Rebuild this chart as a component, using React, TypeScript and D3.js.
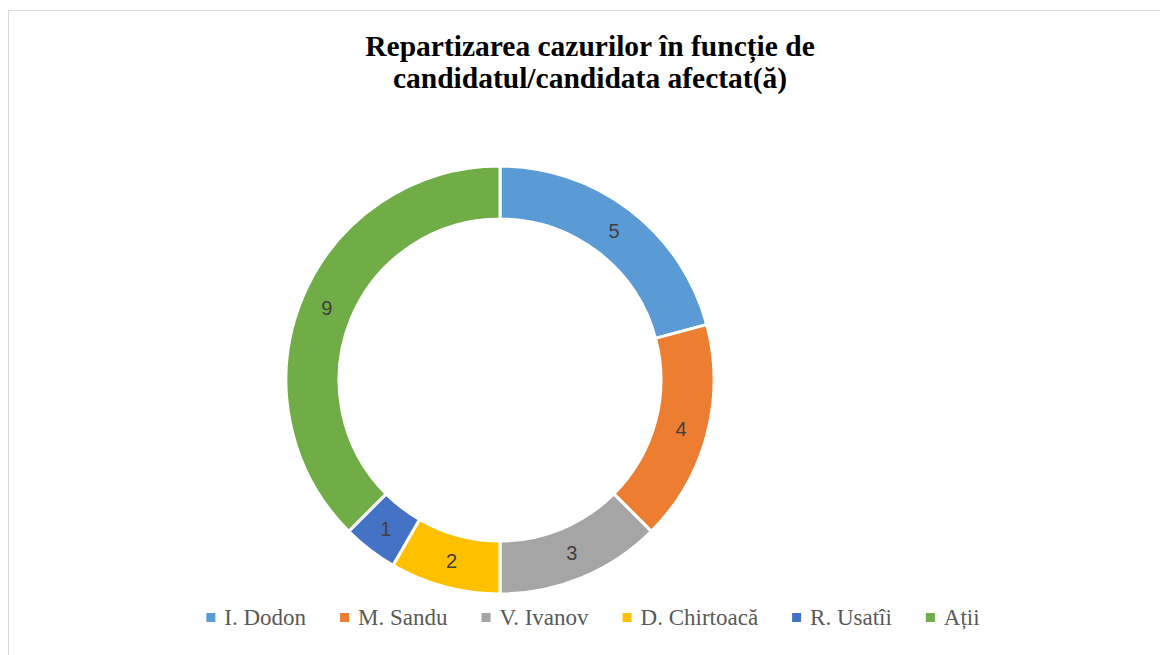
import React from 'react'
import * as d3 from 'd3'

// date
const candidates = ['I. Dodon', 'M. Sandu', 'V. Ivanov', 'D. Chirtoacă', 'R. Usatîi', 'Ații']
const cases = [5, 4, 3, 2, 1, 9]
const colors = ['#5B9BD5', '#ED7D31', '#A5A5A5', '#FFC000', '#4472C4', '#70AD47']
const titleLines = ['Repartizarea cazurilor în funcție de', 'candidatul/candidata afectat(ă)']

const W = 1160
const H = 655
const cx = 500
const cy = 380
const outerR = 214
const innerR = 161

const legendSize = 23
const legendFont = `${legendSize}px 'Liberation Serif'`

function textWidth(txt: string, font: string) {
  const c = document.createElement('canvas').getContext('2d')
  if (!c) return txt.length * 10
  c.font = font
  return c.measureText(txt).width
}

export default function App() {
  const pie = d3.pie<number>().sort(null).value(d => d)
  const arcs = pie(cases)
  const arc = d3.arc<d3.PieArcDatum<number>>().innerRadius(innerR).outerRadius(outerR)
  const labelArc = d3.arc<d3.PieArcDatum<number>>()
    .innerRadius((innerR + outerR) / 2).outerRadius((innerR + outerR) / 2)

  // legenda: patrat 9px, 9px spatiu, text, 34px intre elemente
  const sq = 9
  const widths = candidates.map(c => sq + 9 + textWidth(c, legendFont))
  const total = d3.sum(widths) + 34 * (candidates.length - 1)
  const legendX0 = 593 - total / 2
  const legendX = widths.map((w, i) => legendX0 + d3.sum(widths.slice(0, i)) + 34 * i)
  const legendY = 625

  return (
    <svg width={W} height={H} style={{ position: 'absolute', left: 0, top: 0, display: 'block', background: '#fff' }}>
      <rect x={8.5} y={10.5} width={W + 20} height={H + 20} fill='#fff' stroke='#d9d9d9' strokeWidth={1} />

      <text textAnchor='middle' fontFamily="'Liberation Serif', serif" fontWeight='bold' fontSize={29.5} fill='#000'>
        {titleLines.map((l, i) => (
          <tspan key={i} x={590} y={56 + i * 32}>{l}</tspan>
        ))}
      </text>

      <g transform={`translate(${cx},${cy})`}>
        {arcs.map((a, i) => (
          <path key={i} d={arc(a) || ''} fill={colors[i]} stroke='#fff' strokeWidth={3} />
        ))}
        {arcs.map((a, i) => {
          const [x, y] = labelArc.centroid(a)
          return (
            <text key={i} x={x} y={y} dy='0.35em' textAnchor='middle'
              fontFamily="'Liberation Sans', sans-serif" fontSize={20} fill='#404040'>
              {a.data}
            </text>
          )
        })}
      </g>

      <g>
        {candidates.map((c, i) => (
          <g key={c} transform={`translate(${legendX[i]},${legendY})`}>
            <rect x={0} y={-12} width={sq} height={sq} fill={colors[i]} />
            <text x={sq + 9} y={0} fontFamily="'Liberation Serif', serif" fontSize={legendSize} fill='#595959'>{c}</text>
          </g>
        ))}
      </g>
    </svg>
  )
}
